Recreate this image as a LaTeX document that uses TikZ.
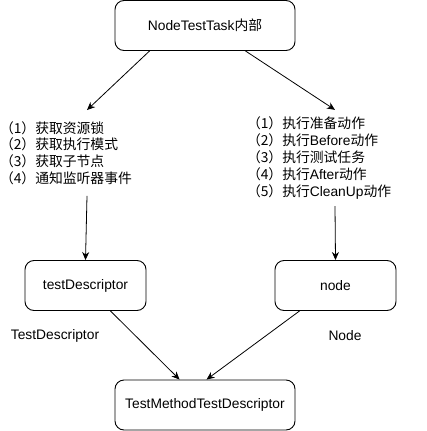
\documentclass[tikz,border=0pt]{standalone}
\usepackage{fontspec}
\setmainfont{Liberation Sans}
\newfontfamily\cjk{Noto Sans CJK SC}
\usetikzlibrary{arrows.meta}
\begin{document}
\begin{tikzpicture}[x=1pt,y=-1pt,
  box/.style={draw,line width=0.9pt,rounded corners=9pt,minimum width=#1,minimum height=50pt,inner sep=0pt,font=\fontsize{13.8}{16}\selectfont},
  box/.default=121pt,
  lst/.style={align=left,inner xsep=0pt,font=\fontsize{13.8}{16.8}\selectfont},
  lbl/.style={font=\fontsize{13.8}{16}\selectfont,inner sep=0pt},
  arr/.style={line width=0.8pt,-{Stealth[length=8pt,width=7pt,inset=2.5pt]}}]
\useasboundingbox (0,0) rectangle (426,431);
\node[box=180pt] (top) at (205,25.5) {NodeTestTask{\cjk 内部}};
\node[lst,text width=174pt,inner ysep=11pt] (ltext) at (87,153) {{\cjk （1）获取资源锁}\\{\cjk （2）获取执行模式}\\{\cjk （3）获取子节点}\\{\cjk （4）通知监听器事件}};
\node[lst,text width=176pt,inner ysep=7pt] (rtext) at (335,158) {{\cjk （1）执行准备动作}\\{\cjk （2）执行}Before{\cjk 动作}\\{\cjk （3）执行测试任务}\\{\cjk （4）执行}After{\cjk 动作}\\{\cjk （5）执行}CleanUp{\cjk 动作}};
\node[box] (td) at (85.5,285.5) {testDescriptor};
\node[box] (nd) at (335.5,285.5) {node};
\node[box=180pt] (tm) at (205,405) {TestMethodTestDescriptor};
\node[lbl] (l1) at (55,336) {TestDescriptor};
\node[lbl] (l2) at (345,336) {Node};
\draw[arr] ([xshift=35pt]top.south west) -- (ltext.north);
\draw[arr] ([xshift=-50pt]top.south east) -- (rtext.north);
\draw[arr] (ltext.south) -- (td.north);
\draw[arr] (rtext.south) -- (nd.north);
\draw[arr] ([xshift=-36pt]td.south east) -- ([xshift=65pt]tm.north west);
\draw[arr] ([xshift=25pt]nd.south west) -- ([xshift=92pt]tm.north west);
\end{tikzpicture}
\end{document}
